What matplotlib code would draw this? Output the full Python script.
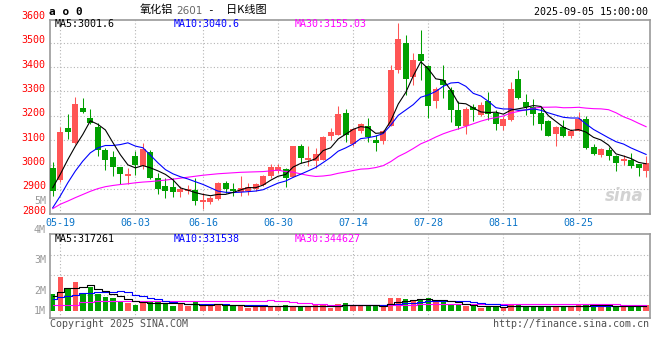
import numpy as np
import pandas as pd
import matplotlib
matplotlib.use("Agg")
from matplotlib import pyplot as plt

# daily K data, 2025-05-16 .. 2025-09-05 (80 sessions)
opens = [2984, 2935, 3151, 3089, 3233, 3192, 3153, 3061, 3031, 2989,
         2952, 3034, 2993, 3052, 2945, 2911, 2906, 2887, 2890, 2895,
         2847, 2847, 2857, 2925, 2898, 2887, 2890, 2898, 2914, 2952,
         2973, 2980, 2950, 3078, 3018, 3014, 3020, 3117, 3123, 3211,
         3086, 3136, 3157, 3102, 3095, 3159, 3388, 3500, 3361, 3454,
         3405, 3259, 3347, 3304, 3222, 3159, 3236, 3204, 3259, 3211,
         3159, 3181, 3350, 3257, 3236, 3211, 3180, 3127, 3153, 3116,
         3139, 3188, 3071, 3037, 3061, 3034, 3014, 3020, 3001, 2973]
highs = [3009, 3153, 3208, 3277, 3272, 3228, 3170, 3068, 3054, 2990,
         2986, 3054, 3089, 3061, 2966, 2945, 2945, 2911, 2915, 2945,
         2884, 2871, 2929, 2931, 2925, 2952, 2925, 2924, 2955, 3004,
         3004, 2984, 3078, 3086, 3075, 3068, 3116, 3149, 3241, 3229,
         3150, 3170, 3191, 3123, 3143, 3409, 3582, 3531, 3459, 3552,
         3410, 3317, 3409, 3320, 3259, 3236, 3249, 3255, 3296, 3222,
         3198, 3337, 3386, 3290, 3268, 3236, 3184, 3157, 3181, 3146,
         3217, 3198, 3084, 3068, 3071, 3041, 3041, 3048, 3001, 3034]
lows = [2871, 2930, 3106, 3085, 3211, 3168, 3034, 2977, 2952, 2922,
        2922, 2959, 2980, 2940, 2881, 2864, 2868, 2868, 2880, 2832,
        2816, 2837, 2854, 2884, 2871, 2871, 2873, 2891, 2911, 2945,
        2966, 2909, 2948, 3007, 2993, 2986, 3018, 3102, 3120, 3091,
        3078, 3129, 3091, 3054, 3086, 3157, 3375, 3286, 3327, 3347,
        3191, 3232, 3272, 3173, 3146, 3127, 3177, 3200, 3184, 3143,
        3140, 3180, 3268, 3204, 3163, 3143, 3116, 3078, 3113, 3109,
        3137, 3064, 3041, 3031, 3020, 2973, 2996, 2984, 2952, 2950]
closes = [2891, 3132, 3132, 3249, 3214, 3170, 3059, 3018, 2990, 2963,
          2963, 2997, 3065, 2944, 2901, 2890, 2887, 2898, 2898, 2850,
          2853, 2861, 2925, 2898, 2890, 2905, 2909, 2922, 2952, 2988,
          2988, 2945, 3075, 3027, 3026, 3045, 3113, 3132, 3208, 3123,
          3146, 3168, 3113, 3089, 3136, 3388, 3515, 3351, 3429, 3426,
          3241, 3311, 3326, 3222, 3159, 3228, 3225, 3245, 3208, 3168,
          3187, 3309, 3272, 3236, 3206, 3168, 3119, 3153, 3119, 3139,
          3187, 3067, 3045, 3065, 3034, 3007, 3023, 2993, 2986, 3007]
volumes = [1054, 2127, 1445, 1817, 1116, 1469, 1054, 868, 806, 577,
           515, 372, 477, 558, 558, 515, 329, 415, 329, 558,
           329, 372, 434, 310, 310, 329, 205, 310, 372, 248,
           329, 372, 310, 310, 248, 372, 372, 205, 434, 515,
           291, 372, 372, 372, 291, 825, 825, 744, 620, 744,
           806, 620, 539, 372, 372, 291, 291, 205, 310, 310,
           267, 372, 372, 310, 310, 310, 310, 291, 310, 291,
           434, 372, 372, 310, 310, 291, 291, 291, 291, 372]
volumes = [v * 1000 for v in volumes]

# moving averages before their window is full (history not shown)
ma5_head = [2905, 2960, 3020, 3075]
ma10_head = [2823, 2871, 2925, 2973, 3014, 3048, 3068, 3078, 3078]
ma30_head = [2819, 2837, 2850, 2864, 2877, 2890, 2901, 2909, 2914, 2918,
             2921, 2925, 2928, 2930, 2933, 2936, 2940, 2944, 2948, 2952,
             2956, 2959, 2962, 2964, 2966, 2968, 2969, 2970, 2971]
vma5_head = [930e3, 1197e3, 1407e3, 1445e3]
vma10_head = [744e3, 887e3, 949e3, 992e3, 1097e3, 1135e3, 1197e3, 1197e3, 1197e3]
vma30_head = [372e3] * 4 + [539e3] * 2 + [620e3] * 7 + [639e3] * 16

date_labels = ["05-19", "06-03", "06-16", "06-30", "07-14", "07-28", "08-11", "08-25"]
date_idx = [1, 11, 20, 30, 40, 50, 60, 70]
price_grid = [2900, 3000, 3100, 3200, 3300, 3400, 3500]
price_labels = [2800, 2900, 3000, 3100, 3200, 3300, 3400, 3500, 3600]
ma_texts = ["MA5:3001.6", "MA10:3040.6", "MA30:3155.03"]
vma_texts = ["MA5:317261", "MA10:331538", "MA30:344627"]


def moving_avg(values, n, head):
    s = pd.Series(values, dtype=float).rolling(n).mean().to_numpy()
    s[:n - 1] = head
    return s


W, H = 660, 360
MONO = "DejaVu Sans Mono"
RED = "#ff5555"
GREEN = "#00a000"
GRID = "#b4b4b4"
BORDER = "#9a9a9a"
MA_COLORS = ["black", "#0000ff", "#ff00ff"]

x = np.arange(len(closes))
o = np.array(opens, float)
c = np.array(closes, float)
up = c >= o
colors = np.where(up, RED, GREEN)

fig = plt.figure(figsize=(W / 100, H / 100), dpi=100)
fig.patch.set_facecolor("white")


def ftext(px, py, s, **kw):
    kw.setdefault("va", "center")
    fig.text(px / W, 1 - py / H, s, **kw)


def box(left, top, right, bottom):
    return [left / W, 1 - bottom / H, (right - left) / W, (bottom - top) / H]


ax = fig.add_axes(box(50, 19.5, 650, 213.5))
axv = fig.add_axes(box(50, 234.3, 650, 317.7))

for a in (ax, axv):
    a.set_xlim(-0.37, 79.52)
    for sp in a.spines.values():
        sp.set_color(BORDER)
        sp.set_linewidth(1.2)
    a.tick_params(length=0)
    for xi in date_idx:
        a.axvline(xi, color=GRID, lw=0.8, ls=(0, (1, 2)), zorder=0)

# price panel
ax.set_ylim(2799, 3595)
ax.set_yticks([])
for p in price_grid:
    ax.axhline(p, color=GRID, lw=0.8, ls=(0, (1, 2)), zorder=0)

body = np.maximum(np.abs(c - o), 4)
ax.vlines(x, lows, highs, colors=colors, lw=0.75, zorder=2)
ax.bar(x, body, bottom=np.minimum(o, c), width=0.8, color=colors, lw=0, zorder=3)

ma5 = moving_avg(closes, 5, ma5_head)
ma10 = moving_avg(closes, 10, ma10_head)
ma30 = moving_avg(closes, 30, ma30_head)
ax.plot(x, ma30, color=MA_COLORS[2], lw=0.8, zorder=4)
ax.plot(x, ma10, color=MA_COLORS[1], lw=0.8, zorder=4)
ax.plot(x, ma5, color=MA_COLORS[0], lw=0.8, zorder=5)

ax.set_xticks(date_idx)
ax.set_xticklabels(date_labels)
ax.tick_params(axis="x", pad=3, labelsize=7.2, labelcolor="#0a74c8")
for lbl in ax.get_xticklabels():
    lbl.set_fontfamily(MONO)

for p in price_labels:
    ax.text(-0.007, p + 10, str(p), transform=ax.get_yaxis_transform(),
            ha="right", va="center", color="#ff0000", fontsize=7.2,
            family=MONO, clip_on=False)

ax.text(0.99, 0.09, "sina", transform=ax.transAxes, ha="right", va="center",
        fontsize=12, style="italic", weight="bold", color="#d2d2d2", zorder=1)

# volume panel
axv.set_ylim(-415000, 4755000)
axv.set_yticks([])
axv.set_xticks([])
for v in [973000, 2213000, 3453000]:
    axv.axhline(v, color=GRID, lw=0.8, ls=(0, (1, 2)), zorder=0)
axv.bar(x, volumes, width=0.72, color=colors, lw=0, zorder=2)
vma5 = moving_avg(volumes, 5, vma5_head)
vma10 = moving_avg(volumes, 10, vma10_head)
vma30 = moving_avg(volumes, 30, vma30_head)
axv.plot(x, vma30, color=MA_COLORS[2], lw=0.8, drawstyle="steps-mid", zorder=3)
axv.plot(x, vma10, color=MA_COLORS[1], lw=0.8, drawstyle="steps-mid", zorder=3)
axv.plot(x, vma5, color=MA_COLORS[0], lw=0.8, drawstyle="steps-mid", zorder=4)

# header texts
ftext(49, 12, "a o 0", fontsize=8, family=MONO, weight="bold")
ftext(140, 10, "氧化铝", fontsize=8, family=["Noto Sans CJK SC", "DejaVu Sans"])
ftext(176.5, 10.5, "2601", fontsize=7.5, family="DejaVu Sans", color="#666666")
ftext(207, 10, "-", fontsize=8, family=MONO)
ftext(226.5, 10, "日K线图", fontsize=8, family=["Noto Sans CJK SC", "DejaVu Sans"])
ftext(648, 12, "2025-09-05 15:00:00", fontsize=7.2, family=MONO, ha="right")

for px, s, col in zip([55, 174, 295], ma_texts, MA_COLORS):
    ftext(px, 24, s, fontsize=7.2, family=MONO, color=col)
for px, s, col in zip([55, 174, 295], vma_texts, MA_COLORS):
    ftext(px, 239, s, fontsize=7.2, family=MONO, color=col)

ftext(46, 201, "5M", fontsize=7.2, family=MONO, color="#999999", ha="right")
for lab, py in [("4M", 230), ("3M", 260), ("2M", 290.5), ("1M", 311)]:
    ftext(46, py, lab, fontsize=7.2, family=MONO, color="#999999", ha="right")

ftext(50, 324, "Copyright 2025 SINA.COM", fontsize=7.2, family=MONO, color="#505050")
ftext(649, 324, "http://finance.sina.com.cn", fontsize=7.2, family=MONO,
      color="#505050", ha="right")

fig.savefig("out.png", dpi=100)
